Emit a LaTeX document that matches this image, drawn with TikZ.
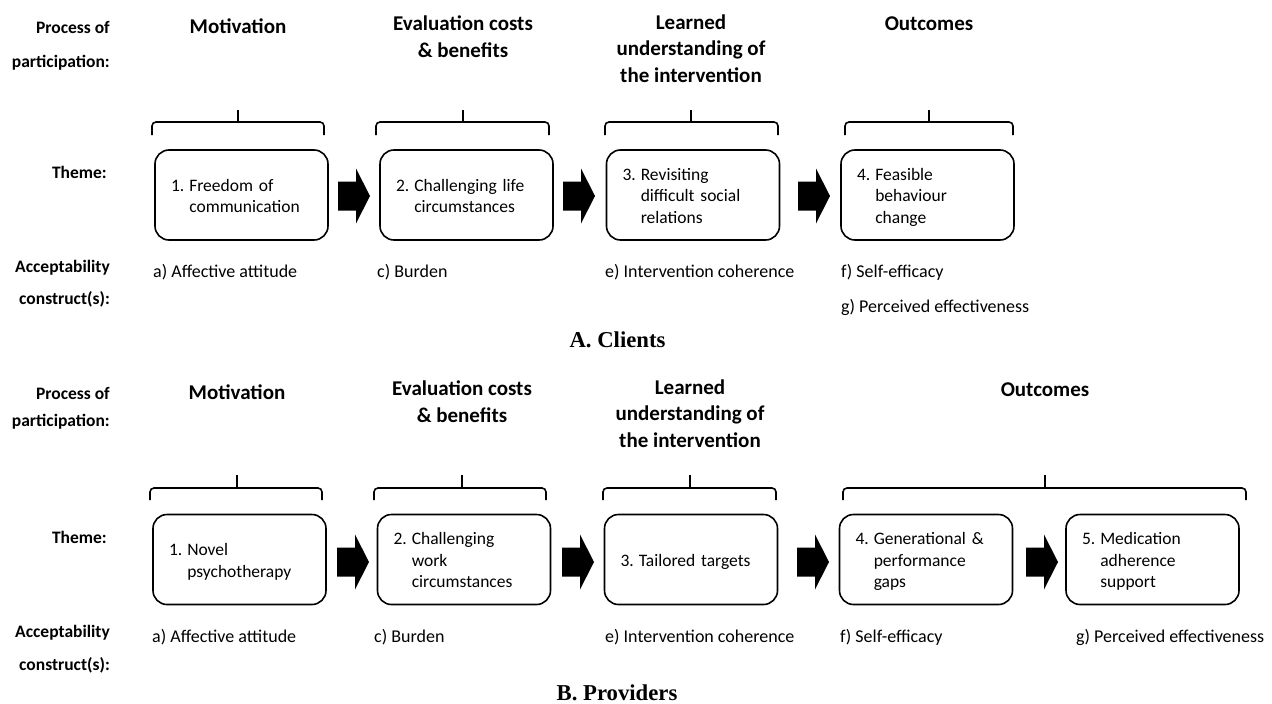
\documentclass[tikz,border=0pt]{standalone}
\usepackage{fontspec}
\setmainfont{Carlito}
\newfontfamily\titlefont{Liberation Serif}
\tikzset{
 box/.style={draw, line width=1.6pt, rounded corners=14pt, minimum width=173pt, minimum height=90pt, text width=141pt, inner xsep=16pt, inner ysep=0pt, align=left, font=\fontsize{17.5}{21.5}\selectfont},
 head/.style={font=\bfseries\fontsize{21}{26.5}\selectfont, align=center, inner sep=0pt},
 side/.style={font=\bfseries\fontsize{17.5}{21}\selectfont, anchor=east, inner sep=0pt},
 cons/.style={font=\fontsize{18}{21}\selectfont, anchor=west, inner sep=0pt},
 brace/.style={line width=1.6pt, rounded corners=4pt},
 ttl/.style={font=\titlefont\bfseries\fontsize{22.7}{26}\selectfont, inner sep=0pt},
}
\newcommand\tb[1]{\raisebox{-2.5pt}[\height][\depth]{\begin{tabular}[c]{@{}l@{\hspace{5pt}}l@{}}#1\end{tabular}}}
% block arrow: left x, centre y
\newcommand\barr[2]{\fill (#1,#2) ++(0,-14.5) -- ++(18,0) -- ++(0,-13) -- ++(14,27.5) -- ++(-14,27.5) -- ++(0,-13) -- ++(-18,0) -- cycle;}
% brace: x1, xm, x2, ytick, ybar, yend
\newcommand\brc[6]{\draw[brace] (#1,#6) -- (#1,#5) -- (#3,#5) -- (#3,#6); \draw[line width=1.6pt] (#2,#5) -- (#2,#4);}
\begin{document}
\begin{tikzpicture}[x=1pt,y=-1pt]
\useasboundingbox (0,0) rectangle (1272,704);
% ---------- A ----------
\node[side] (pa1) at (110,27) {Process of};
\node[side] (pa2) at (110,63) {participation:};
\node[side] (ta) at (107,172) {Theme:};
\node[side] (ca1) at (110,268) {Acceptability};
\node[side] (ca2) at (110,299) {construct(s):};

\node[head] (ha1) at (238,26) {Motivation};
\node[head] (ha2) at (463,36.5) {Evaluation costs\\\& benefits};
\node[head] (ha3) at (691,48.5) {Learned\\understanding of\\the intervention};
\node[head] (ha4) at (929,24) {Outcomes};

\brc{152}{238}{324}{110}{122}{135}
\brc{376}{463}{549}{110}{122}{135}
\brc{605}{691}{778}{110}{122}{135}
\brc{845}{929}{1013}{110}{122}{135}

\node[box] (a1) at (241.5,195) {\tb{1.&Freedom of\\&communication}};
\node[box] (a2) at (466.5,195) {\tb{2.&Challenging life\\&circumstances}};
\node[box] (a3) at (693,195) {\tb{3.&Revisiting\\&difficult social\\&relations}};
\node[box] (a4) at (927.5,195) {\tb{4.&Feasible\\&behaviour\\&change}};

\barr{338}{196}
\barr{563}{196}
\barr{798}{196}

\node[cons] (xa1) at (153,272) {a) Affective attitude};
\node[cons] (xa2) at (377,272) {c) Burden};
\node[cons] (xa3) at (605,272) {e) Intervention coherence};
\node[cons] (xa4) at (841,272) {f) Self-efficacy};
\node[cons] (xa5) at (841,307) {g) Perceived effectiveness};

\node[ttl] (tA) at (617.5,340) {A. Clients};

% ---------- B ----------
\node[side] (pb1) at (110,393) {Process of};
\node[side] (pb2) at (110,422) {participation:};
\node[side] (tb) at (107,537) {Theme:};
\node[side] (cb1) at (110,633) {Acceptability};
\node[side] (cb2) at (110,665) {construct(s):};

\node[head] (hb1) at (237,392) {Motivation};
\node[head] (hb2) at (462,401.5) {Evaluation costs\\\& benefits};
\node[head] (hb3) at (690,413.5) {Learned\\understanding of\\the intervention};
\node[head] (hb4) at (1045,390) {Outcomes};

\brc{150}{237}{322}{475}{488}{500}
\brc{374}{462}{546}{475}{488}{500}
\brc{603}{690}{776}{475}{488}{500}
\brc{843}{1045}{1246}{475}{488}{500}

\node[box] (b1) at (239.5,559.5) {\tb{1.&Novel\\&psychotherapy}};
\node[box] (b2) at (464,559.5) {\tb{2.&Challenging\\&work\\&circumstances}};
\node[box] (b3) at (691,559.5) {\tb{3.&Tailored targets}};
\node[box] (b4) at (926,559.5) {\tb{4.&Generational \&\\&performance\\&gaps}};
\node[box] (b5) at (1152.5,559.5) {\tb{5.&Medication\\&adherence\\&support}};

\barr{337}{562}
\barr{562}{562}
\barr{797}{562}
\barr{1026}{562}

\node[cons] (xb1) at (152,637) {a) Affective attitude};
\node[cons] (xb2) at (374,637) {c) Burden};
\node[cons] (xb3) at (605,637) {e) Intervention coherence};
\node[cons] (xb4) at (840,637) {f) Self-efficacy};
\node[cons] (xb5) at (1076,637) {g) Perceived effectiveness};

\node[ttl] (tB) at (617,693) {B. Providers};
\end{tikzpicture}
\end{document}
